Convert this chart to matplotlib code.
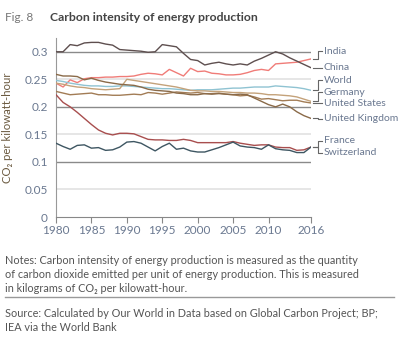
import matplotlib
matplotlib.use("Agg")
import matplotlib.pyplot as plt

plt.rcParams['font.family'] = ['Lato', 'DejaVu Sans']

years = list(range(1980, 2017))

china = [0.300, 0.300, 0.313, 0.311, 0.316, 0.317, 0.317, 0.314, 0.312, 0.304,
         0.303, 0.302, 0.301, 0.299, 0.300, 0.313, 0.311, 0.309, 0.297, 0.286,
         0.284, 0.276, 0.279, 0.281, 0.278, 0.276, 0.278, 0.276, 0.283, 0.288,
         0.294, 0.300, 0.296, 0.289, 0.283, 0.277, 0.271]
india = [0.243, 0.236, 0.249, 0.244, 0.251, 0.253, 0.253, 0.254, 0.254, 0.255,
         0.255, 0.256, 0.259, 0.261, 0.260, 0.258, 0.268, 0.262, 0.256, 0.270,
         0.264, 0.265, 0.261, 0.260, 0.258, 0.258, 0.259, 0.262, 0.266, 0.268,
         0.266, 0.278, 0.279, 0.280, 0.281, 0.284, 0.287]
world = [0.248, 0.246, 0.243, 0.241, 0.239, 0.238, 0.238, 0.237, 0.237, 0.238,
         0.238, 0.237, 0.236, 0.235, 0.234, 0.233, 0.233, 0.232, 0.231, 0.230,
         0.231, 0.231, 0.231, 0.232, 0.233, 0.234, 0.234, 0.235, 0.236, 0.236,
         0.236, 0.238, 0.237, 0.236, 0.235, 0.233, 0.230]
germany = [0.243, 0.241, 0.238, 0.236, 0.235, 0.233, 0.232, 0.231, 0.232, 0.233,
           0.250, 0.248, 0.246, 0.244, 0.242, 0.240, 0.238, 0.236, 0.233, 0.230,
           0.229, 0.229, 0.228, 0.228, 0.227, 0.226, 0.226, 0.225, 0.225, 0.224,
           0.222, 0.222, 0.221, 0.220, 0.218, 0.214, 0.210]
united_states = [0.228, 0.225, 0.222, 0.223, 0.224, 0.225, 0.222, 0.222, 0.221, 0.221,
                 0.222, 0.223, 0.222, 0.226, 0.225, 0.223, 0.225, 0.227, 0.226, 0.225,
                 0.226, 0.224, 0.224, 0.225, 0.223, 0.222, 0.220, 0.221, 0.218, 0.214,
                 0.215, 0.213, 0.211, 0.212, 0.212, 0.209, 0.207]
united_kingdom = [0.259, 0.256, 0.256, 0.255, 0.249, 0.252, 0.248, 0.245, 0.243, 0.241,
                  0.240, 0.239, 0.236, 0.232, 0.230, 0.229, 0.228, 0.225, 0.224, 0.222,
                  0.222, 0.224, 0.223, 0.224, 0.223, 0.222, 0.223, 0.222, 0.216, 0.210,
                  0.204, 0.200, 0.205, 0.200, 0.191, 0.184, 0.179]
france = [0.222, 0.208, 0.200, 0.190, 0.179, 0.168, 0.158, 0.152, 0.149, 0.152,
          0.152, 0.151, 0.146, 0.141, 0.140, 0.140, 0.139, 0.139, 0.141, 0.139,
          0.135, 0.135, 0.135, 0.135, 0.135, 0.137, 0.134, 0.132, 0.130, 0.131,
          0.131, 0.127, 0.126, 0.126, 0.121, 0.122, 0.127]
switzerland = [0.134, 0.128, 0.123, 0.130, 0.131, 0.125, 0.126, 0.121, 0.122, 0.127,
               0.136, 0.137, 0.134, 0.127, 0.120, 0.128, 0.134, 0.123, 0.125, 0.120,
               0.118, 0.118, 0.122, 0.126, 0.131, 0.136, 0.129, 0.127, 0.126, 0.123,
               0.131, 0.124, 0.122, 0.121, 0.117, 0.117, 0.127]

# name, values, colour, label height
series = [
    ("India", india, "#f07c78", 0.301),
    ("China", china, "#5e4f4f", 0.271),
    ("World", world, "#8fc3d2", 0.248),
    ("Germany", germany, "#c4a27a", 0.2265),
    ("United States", united_states, "#a27c55", 0.2065),
    ("United Kingdom", united_kingdom, "#8a6a48", 0.178),
    ("France", france, "#a84e4e", 0.138),
    ("Switzerland", switzerland, "#3e5662", 0.117),
]

label_col = "#6a7890"

fig = plt.figure(figsize=(4.0, 3.41), dpi=100)
ax = fig.add_axes([0.14, 0.3636, 0.6375, 0.525])

for y in [0.05, 0.15, 0.25]:
    ax.axhline(y, color="#e2e2e2", lw=1.2, zorder=1)
for y in [0.1, 0.2, 0.3]:
    ax.axhline(y, color="#8a8a8a", lw=1.0, zorder=1)

for name, vals, col, ly in series:
    ax.plot(years, vals, color=col, lw=1.0, zorder=3)
    end = vals[-1]
    ax.plot([2016.3, 2017.0, 2017.0, 2017.6], [end, end, ly, ly],
            color="#666666", lw=0.8, clip_on=False)
    ax.text(2017.8, ly, name, color=label_col, fontsize=7.5, va="center",
            ha="left", clip_on=False)

ax.set_xlim(1980, 2016)
ax.set_ylim(0, 0.325)
ax.set_xticks([1980, 1985, 1990, 1995, 2000, 2005, 2010, 2016])
ax.set_yticks([0, 0.05, 0.1, 0.15, 0.2, 0.25, 0.3])
ax.set_yticklabels(["0", "0.05", "0.1", "0.15", "0.2", "0.25", "0.3"])
ax.tick_params(axis="y", length=0, labelsize=8.5, labelcolor=label_col, pad=6)
ax.tick_params(axis="x", length=4, color="#888888", labelsize=8.5,
               labelcolor=label_col, pad=2)
for s in ["top", "right"]:
    ax.spines[s].set_visible(False)
ax.spines["left"].set_color("#999999")
ax.spines["bottom"].set_color("#888888")
ax.set_ylabel("CO₂ per kilowatt-hour", color="#6b5a40", fontsize=8.2,
              labelpad=8)

fig.text(0.0125, 0.95, "Fig. 8", color="#777777", fontsize=8.5, va="center")
fig.text(0.125, 0.95, "Carbon intensity of energy production", color="#444444",
         fontsize=8.8, fontweight="bold", va="center")

notes = ("Notes: Carbon intensity of energy production is measured as the quantity\n"
         "of carbon dioxide emitted per unit of energy production. This is measured\n"
         "in kilograms of CO₂ per kilowatt-hour.")
fig.text(0.0125, 0.772 - 0.52, notes, color="#555555", fontsize=7.8,
         va="top", linespacing=1.35)
fig.add_artist(plt.Line2D([0.0125, 0.985], [0.129, 0.129], color="#999999",
                          lw=1.0, transform=fig.transFigure))
source = ("Source: Calculated by Our World in Data based on Global Carbon Project; BP;\n"
          "IEA via the World Bank")
fig.text(0.0125, 0.097, source, color="#555555", fontsize=7.8, va="top",
         linespacing=1.35)

fig.savefig("out.png", dpi=100)
